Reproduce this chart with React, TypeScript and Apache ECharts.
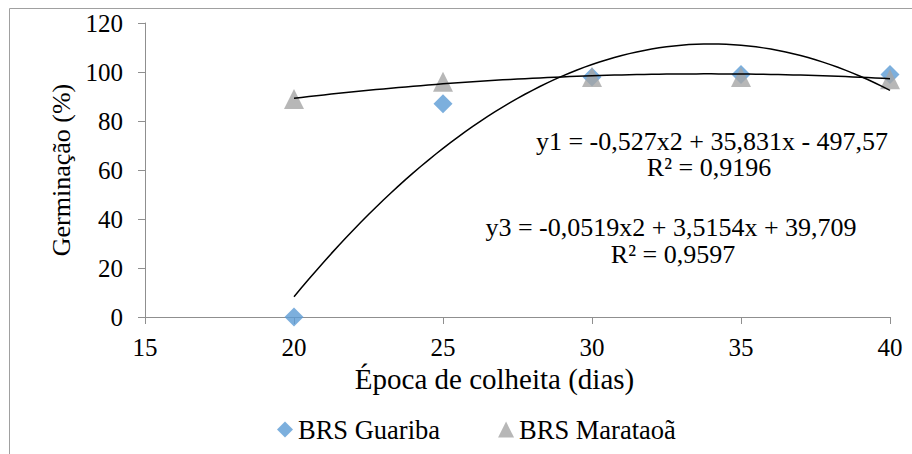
import React, { useEffect, useRef } from "react";
import * as echarts from "echarts";

const epocas = [20, 25, 30, 35, 40];
const guariba = [0, 87, 98, 99, 99];
const marataoa = [89, 96, 98, 98, 97];
const xTicks = [15, 20, 25, 30, 35, 40];
const yTicks = [0, 20, 40, 60, 80, 100, 120];
// regression coefficients printed on the chart (a, b, c for a*x^2 + b*x + c)
const coefGuariba = [-0.527, 35.831, -497.57];
const coefMarataoa = [-0.0519, 3.5154, 39.709];
const eqGuariba = "y1 = -0,527x2 + 35,831x - 497,57";
const r2Guariba = "R² = 0,9196";
const eqMarataoa = "y3 = -0,0519x2 + 3,5154x + 39,709";
const r2Marataoa = "R² = 0,9597";

const FONT = "Liberation Serif";
const FS_TICK = 25;
const FS_TXT = 26;

function trend(coef: number[]) {
  const pts: number[][] = [];
  const x0 = epocas[0];
  const x1 = epocas[epocas.length - 1];
  for (let i = 0; i <= 80; i++) {
    const x = x0 + ((x1 - x0) * i) / 80;
    pts.push([x, coef[0] * x * x + coef[1] * x + coef[2]]);
  }
  return pts;
}

export default function App() {
  const ref = useRef<HTMLDivElement>(null);
  useEffect(() => {
    const chart = echarts.init(ref.current!, undefined, { renderer: "svg" });
    const axisColor = "#8f8f8f";
    const txt = (text: string, x: number, y: number) => ({
      type: "text",
      x,
      y,
      style: {
        text,
        fontFamily: FONT,
        fontSize: FS_TXT,
        fill: "#000",
        textAlign: "center",
        textVerticalAlign: "middle",
      },
    });
    chart.setOption({
      animation: false,
      backgroundColor: "#ffffff",
      textStyle: { fontFamily: FONT, color: "#000" },
      grid: { left: 145, right: 22, top: 23, bottom: 137 },
      legend: {
        top: 411,
        left: 272,
        selectedMode: false,
        itemGap: 58,
        itemWidth: 16,
        itemHeight: 16,
        textStyle: { fontFamily: FONT, fontSize: 26.5, color: "#000" },
        data: [
          { name: "BRS Guariba", icon: "diamond" },
          { name: "BRS Marataoã", icon: "triangle" },
        ],
      },
      xAxis: {
        type: "value",
        min: xTicks[0],
        max: xTicks[xTicks.length - 1],
        interval: 5,
        name: "Época de colheita (dias)",
        nameLocation: "middle",
        nameGap: 46,
        nameTextStyle: { fontFamily: FONT, fontSize: 29, color: "#000", padding: [0, 46, 0, 0] },
        axisLine: { show: true, lineStyle: { color: axisColor, width: 1 } },
        axisTick: { show: true, length: 7, lineStyle: { color: axisColor } },
        axisLabel: { fontFamily: FONT, fontSize: FS_TICK, color: "#000", margin: 18 },
        splitLine: { show: false },
      },
      yAxis: {
        type: "value",
        min: yTicks[0],
        max: yTicks[yTicks.length - 1],
        interval: 20,
        name: "Germinação (%)",
        nameLocation: "middle",
        nameGap: 70,
        nameRotate: 90,
        nameTextStyle: { fontFamily: FONT, fontSize: 26, color: "#000" },
        axisLine: { show: true, lineStyle: { color: axisColor, width: 1 } },
        axisTick: { show: true, length: 7, lineStyle: { color: axisColor } },
        axisLabel: { fontFamily: FONT, fontSize: FS_TICK, color: "#000", margin: 22 },
        splitLine: { show: false },
      },
      graphic: [
        {
          type: "rect",
          silent: true,
          shape: { x: 9.5, y: 8.5, width: 1200, height: 1200 },
          style: { fill: "none", stroke: "#a0a0a0", lineWidth: 1 },
          z: -10,
        },
        txt(eqGuariba, 712, 141),
        txt(r2Guariba, 709, 167.5),
        txt(eqMarataoa, 671, 227.5),
        txt(r2Marataoa, 673, 254),
      ],
      series: [
        {
          name: "BRS Guariba",
          type: "scatter",
          symbol: "diamond",
          symbolSize: 19,
          itemStyle: { color: "#5b9bd5" },
          data: epocas.map((x, i) => [x, guariba[i]]),
          z: 2,
        },
        {
          name: "BRS Marataoã",
          type: "scatter",
          symbol: "triangle",
          symbolSize: 20,
          itemStyle: { color: "#a5a5a5" },
          data: epocas.map((x, i) => [x, marataoa[i]]),
          z: 3,
        },
        {
          name: "trend1",
          type: "line",
          showSymbol: false,
          symbol: "none",
          silent: true,
          lineStyle: { color: "#000", width: 1.5 },
          data: trend(coefGuariba),
          z: 4,
        },
        {
          name: "trend3",
          type: "line",
          showSymbol: false,
          symbol: "none",
          silent: true,
          lineStyle: { color: "#000", width: 1.5 },
          data: trend(coefMarataoa),
          z: 4,
        },
      ],
    });
    return () => chart.dispose();
  }, []);
  return (
    <div
      ref={ref}
      style={{ position: "absolute", left: 0, top: 0, width: 912, height: 454 }}
    />
  );
}
